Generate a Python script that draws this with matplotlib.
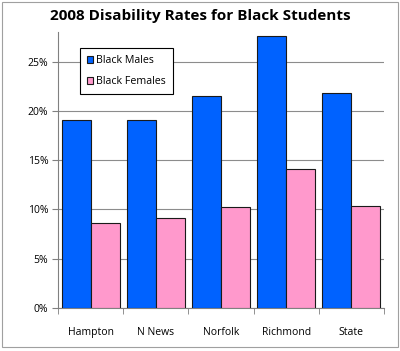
import matplotlib
matplotlib.use("Agg")
import matplotlib.pyplot as plt
import numpy as np
from matplotlib.ticker import FixedLocator, FuncFormatter
from matplotlib.patches import Rectangle

categories = ["Hampton", "N News", "Norfolk", "Richmond", "State"]
males = [19.1, 19.1, 21.5, 27.6, 21.8]
females = [8.6, 9.1, 10.2, 14.1, 10.3]
yticks = [0, 5, 10, 15, 20, 25]

plt.rcParams['font.family'] = ['Open Sans', 'DejaVu Sans']

fig = plt.figure(figsize=(4.0, 3.51), dpi=100)
ax = fig.add_axes([0.145, 0.1225, 0.815, 0.7865])

x = np.arange(len(categories))
w = 0.445
ax.bar(x - w/2, males, width=w, color="#0062FF", edgecolor="#1a1a1a", linewidth=0.8, label="Black Males", zorder=3)
ax.bar(x + w/2, females, width=w, color="#FF99CC", edgecolor="#1a1a1a", linewidth=0.8, label="Black Females", zorder=3)

ax.set_xlim(-0.5, len(categories) - 0.5)
ax.set_ylim(0, 28)
ax.yaxis.set_major_locator(FixedLocator(yticks))
ax.yaxis.set_major_formatter(FuncFormatter(lambda v, p: f"{v:.0f}%"))
ax.grid(axis="y", color="#8c8c8c", linewidth=0.8, zorder=0)
ax.set_xticks(x)
ax.set_xticklabels(categories, fontsize=7.5)
ax.set_xticks(np.arange(len(categories) + 1) - 0.5, minor=True)
ax.tick_params(axis="x", which="major", length=0, pad=14)
ax.tick_params(axis="x", which="minor", length=4, color="#808080", direction="out")
ax.tick_params(axis="y", length=4, color="#808080", labelsize=7.5, pad=3)

for s in ["top", "right"]:
    ax.spines[s].set_visible(False)
ax.spines["left"].set_color("#808080")
ax.spines["bottom"].set_color("#808080")

leg = ax.legend(loc="upper left", bbox_to_anchor=(0.067, 0.942), fontsize=7.7,
                frameon=True, fancybox=False, edgecolor="black", framealpha=1,
                handlelength=0.6, handleheight=0.6, handletextpad=0.3,
                labelspacing=0.95, borderpad=0.65, borderaxespad=0)
leg.get_frame().set_linewidth(0.8)
leg.set_zorder(5)

fig.text(0.5, 0.955, "2008 Disability Rates for Black Students", ha="center", va="center",
         fontsize=11, fontweight="bold")

fig.patches.append(Rectangle((0.006, 0.01), 0.988, 0.983, transform=fig.transFigure,
                             fill=False, edgecolor="#a0a0a0", linewidth=0.8))

fig.savefig("out.png", dpi=100)
